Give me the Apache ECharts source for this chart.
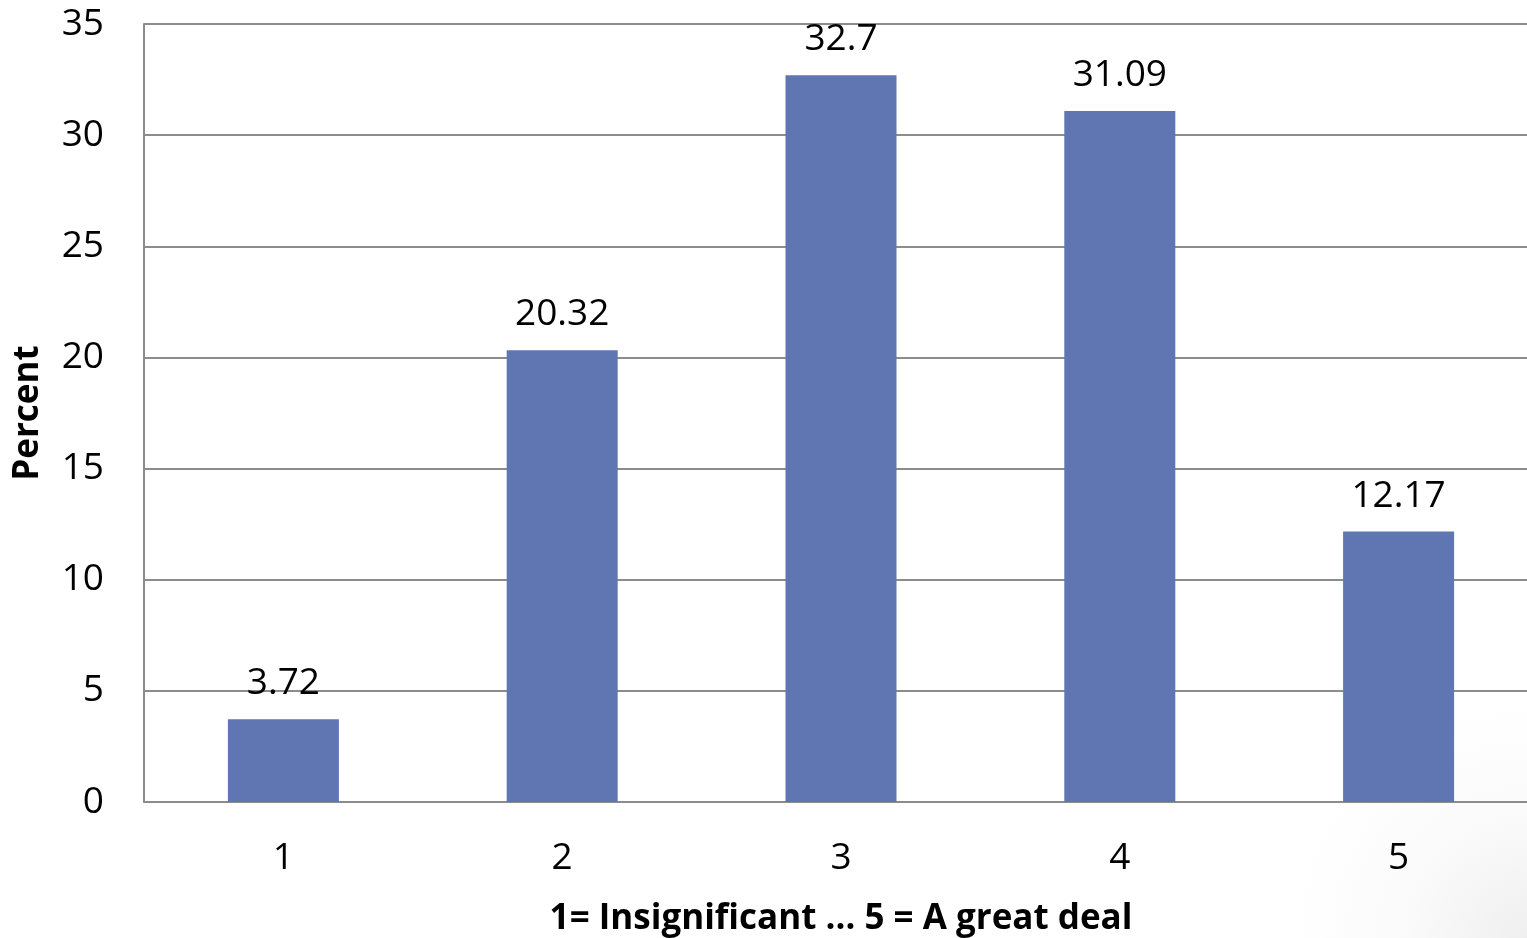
<!DOCTYPE html>
<html>
<head>
<meta charset="utf-8">
<style>
  html, body { margin: 0; padding: 0; background: #ffffff; }
  #chart { width: 1527px; height: 938px; }
</style>
<script src="https://cdn.jsdelivr.net/npm/echarts@6/dist/echarts.min.js"></script>
</head>
<body>
<div id="chart"></div>
<script>
// Rating scale categories and the share of responses for each
const categories = ['1', '2', '3', '4', '5'];
const percentValues = [3.72, 20.32, 32.7, 31.09, 12.17];
const yAxisTitle = 'Percent';
const xAxisTitle = '1= Insignificant \u2026 5 = A great deal';

const FONT = '"Open Sans", "Noto Sans", sans-serif';
const GRID_COLOR = '#8c8c8c';

const chart = echarts.init(document.getElementById('chart'));
chart.setOption({
  backgroundColor: {
    type: 'radial', x: 1, y: 1, r: 0.25,
    colorStops: [
      { offset: 0, color: '#efefef' },
      { offset: 0.5, color: '#fafafa' },
      { offset: 1, color: '#ffffff' }
    ]
  },
  animation: false,
  // the plot area runs a little past the right edge of the canvas
  grid: { left: 144, right: -11, top: 24, bottom: 136, containLabel: false, outerBoundsMode: 'none' },
  xAxis: {
    type: 'category',
    data: categories,
    axisLine: { show: true, lineStyle: { color: GRID_COLOR, width: 2 } },
    axisTick: { show: false },
    axisLabel: { color: '#000', fontFamily: FONT, fontSize: 37, margin: 38 },
    name: xAxisTitle,
    nameLocation: 'middle',
    nameGap: 100,
    nameTextStyle: { color: '#000', fontFamily: FONT, fontSize: 35, fontWeight: 'bold' }
  },
  yAxis: {
    type: 'value',
    min: 0, max: 35, interval: 5,
    axisLine: { show: true, lineStyle: { color: GRID_COLOR, width: 2 } },
    axisTick: { show: false },
    splitLine: { show: true, lineStyle: { color: GRID_COLOR, width: 2 } },
    axisLabel: { color: '#000', fontFamily: FONT, fontSize: 37, margin: 40 },
    name: yAxisTitle,
    nameLocation: 'middle',
    nameGap: 98,
    nameRotate: 90,
    nameTextStyle: { color: '#000', fontFamily: FONT, fontSize: 35, fontWeight: 'bold' }
  },
  series: [{
    type: 'bar',
    data: percentValues,
    barWidth: 111,
    itemStyle: { color: '#6076b3' },
    label: {
      show: true,
      position: 'top',
      distance: 17,
      color: '#000',
      fontFamily: FONT,
      fontSize: 37
    }
  }]
});
</script>
</body>
</html>
